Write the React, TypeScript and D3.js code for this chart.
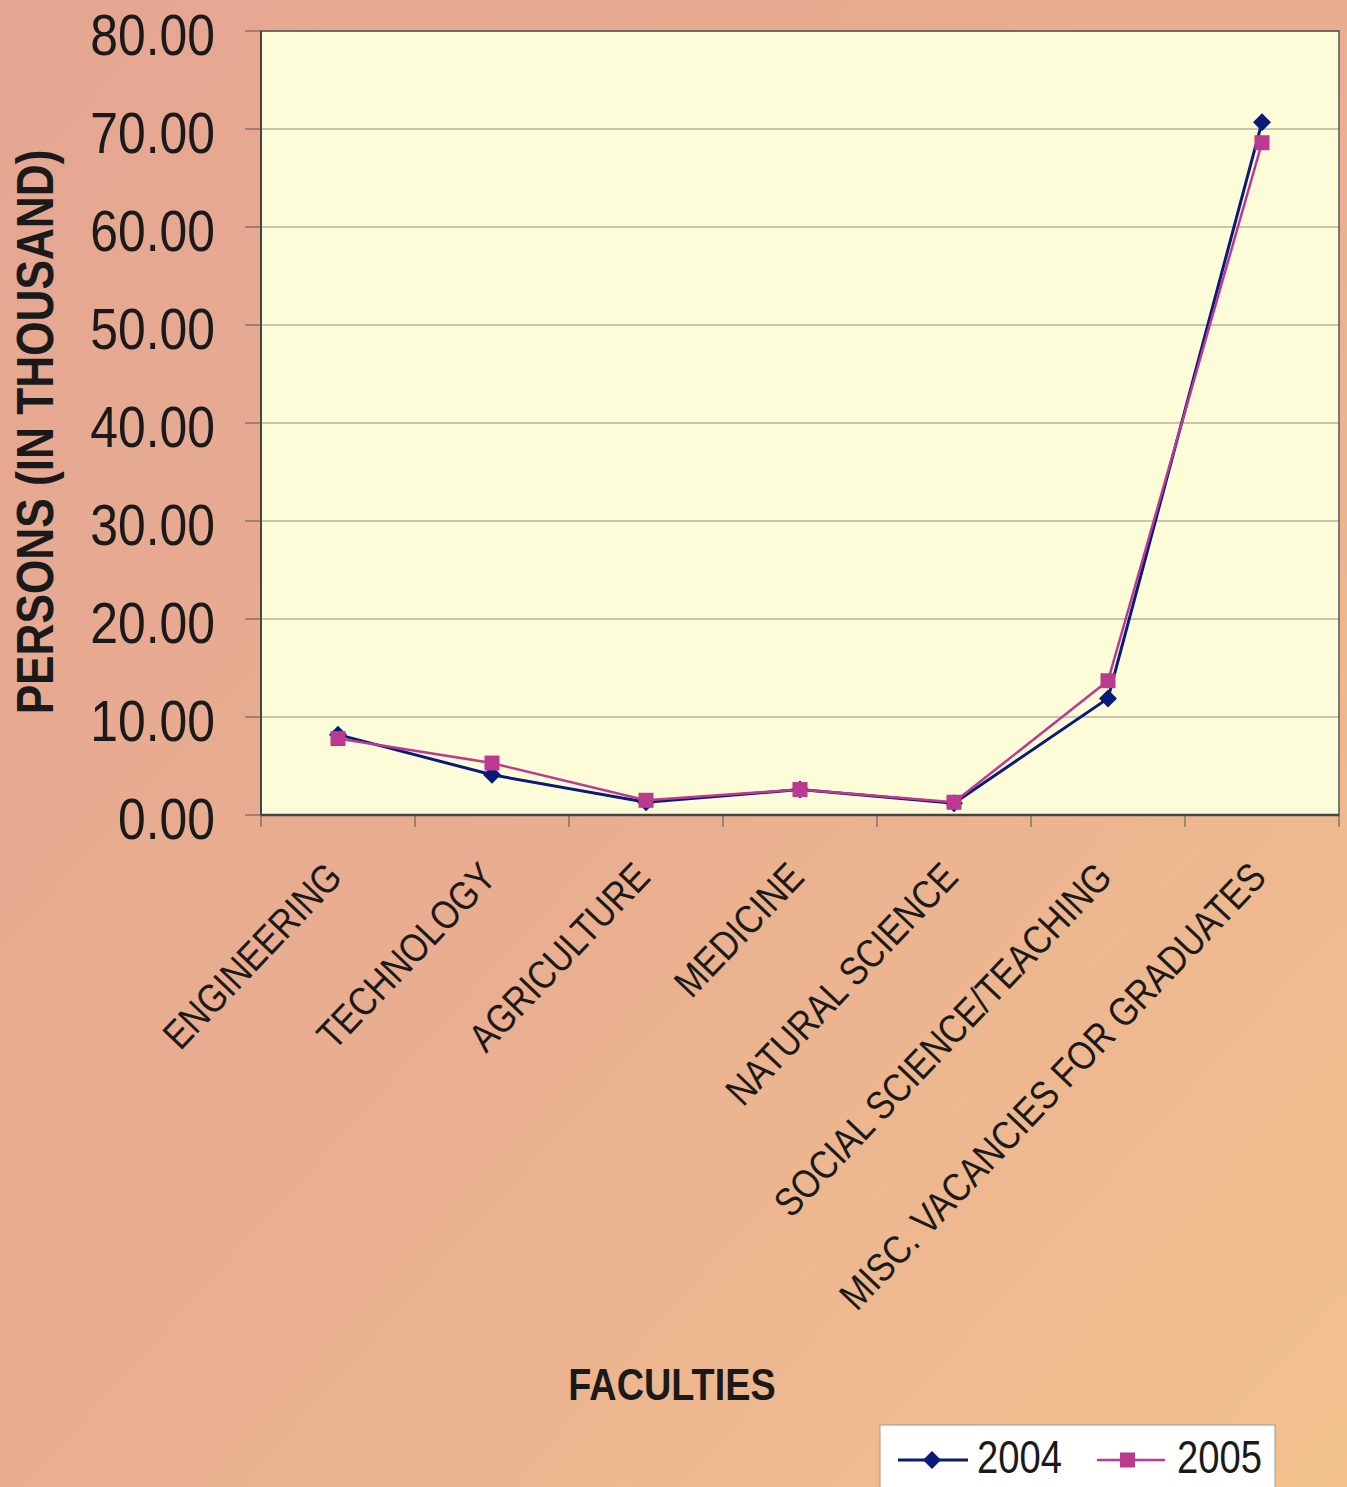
import React from "react";
import * as d3 from "d3";

const categories = [
  "ENGINEERING",
  "TECHNOLOGY",
  "AGRICULTURE",
  "MEDICINE",
  "NATURAL SCIENCE",
  "SOCIAL SCIENCE/TEACHING",
  "MISC. VACANCIES FOR GRADUATES",
];
const values2004 = [8.2, 4.1, 1.3, 2.6, 1.2, 11.9, 70.7];
const values2005 = [7.8, 5.3, 1.5, 2.6, 1.3, 13.7, 68.6];
const yTicks = [0, 10, 20, 30, 40, 50, 60, 70, 80];
const seriesNames = ["2004", "2005"];

const W = 1347;
const H = 1487;
const M = { left: 261, right: 1339, top: 31, bottom: 815 };
const FONT = "'Liberation Sans', Arial, Helvetica, sans-serif";
const C2004 = "#0a1a78";
const C2005 = "#bb3a90";

export default function App() {
  const x = d3.scaleBand<string>().domain(categories).range([M.left, M.right]);
  const y = d3.scaleLinear().domain([0, 80]).range([M.bottom, M.top]);
  const cx = (c: string) => (x(c) as number) + x.bandwidth() / 2;

  const line = d3
    .line<number>()
    .x((_, i) => cx(categories[i]))
    .y((d) => y(d));

  const diamond = (px: number, py: number, r: number) =>
    `M${px},${py - r}L${px + r},${py}L${px},${py + r}L${px - r},${py}Z`;

  const boundaries = d3.range(categories.length + 1).map((i) => M.left + i * x.bandwidth());

  return (
    <svg
      width={W}
      height={H}
      style={{ position: "absolute", left: 0, top: 0, display: "block" }}
      fontFamily={FONT}
    >
      <defs>
        <linearGradient id="bg" x1="0" y1="0" x2="1" y2="1">
          <stop offset="0" stopColor="#e5a692" />
          <stop offset="0.5" stopColor="#e9ae90" />
          <stop offset="1" stopColor="#f2c28e" />
        </linearGradient>
      </defs>
      <rect x={0} y={0} width={W} height={H} fill="url(#bg)" />

      {/* plot area */}
      <rect
        x={M.left}
        y={M.top}
        width={M.right - M.left}
        height={M.bottom - M.top}
        fill="#fdfcd9"
      />
      {yTicks.map((t) => (
        <line
          key={"g" + t}
          x1={M.left}
          x2={M.right}
          y1={y(t)}
          y2={y(t)}
          stroke="#8f8f78"
          strokeWidth={1}
        />
      ))}
      <rect
        x={M.left}
        y={M.top}
        width={M.right - M.left}
        height={M.bottom - M.top}
        fill="none"
        stroke="#555"
        strokeWidth={1.5}
      />
      <line x1={M.left} x2={M.right} y1={M.bottom} y2={M.bottom} stroke="#444" strokeWidth={2.5} />
      <line x1={M.left} x2={M.left} y1={M.top} y2={M.bottom} stroke="#444" strokeWidth={2} />

      {/* y ticks */}
      {yTicks.map((t) => (
        <g key={"yt" + t}>
          <line x1={M.left - 16} x2={M.left} y1={y(t)} y2={y(t)} stroke="#555" strokeWidth={1} />
          <text
            transform={`translate(215,${y(t) + 24}) scale(0.86,1)`}
            textAnchor="end"
            fontSize={58}
            fill="#1a1a1a"
          >
            {t.toFixed(2)}
          </text>
        </g>
      ))}

      {/* x ticks */}
      {boundaries.map((b, i) => (
        <line key={"xt" + i} x1={b} x2={b} y1={M.bottom} y2={M.bottom + 12} stroke="#555" strokeWidth={1} />
      ))}
      {categories.map((c) => (
        <text
          key={"xl" + c}
          transform={`translate(${cx(c) + 6},${M.bottom + 64}) rotate(-46.5) scale(0.85,1)`}
          textAnchor="end"
          fontSize={40}
          fill="#1a1a1a"
        >
          {c}
        </text>
      ))}

      {/* axis titles */}
      <text
        transform={`translate(53,432) rotate(-90) scale(0.85,1)`}
        textAnchor="middle"
        fontSize={52}
        fontWeight="bold"
        fill="#1a1a1a"
      >
        PERSONS (IN THOUSAND)
      </text>
      <text
        transform={`translate(672,1400) scale(0.86,1)`}
        textAnchor="middle"
        fontSize={44}
        fontWeight="bold"
        fill="#1a1a1a"
      >
        FACULTIES
      </text>

      {/* series 2004 */}
      <path d={line(values2004) || ""} fill="none" stroke={C2004} strokeWidth={3} />
      {values2004.map((v, i) => (
        <path key={"d" + i} d={diamond(cx(categories[i]), y(v), 9)} fill={C2004} />
      ))}
      {/* series 2005 */}
      <path d={line(values2005) || ""} fill="none" stroke={C2005} strokeWidth={2.5} />
      {values2005.map((v, i) => (
        <rect
          key={"s" + i}
          x={cx(categories[i]) - 7.5}
          y={y(v) - 7.5}
          width={15}
          height={15}
          fill={C2005}
        />
      ))}

      {/* legend */}
      <rect x={880} y={1425} width={395} height={80} fill="#ffffff" stroke="#999" strokeWidth={1} />
      <line x1={898} x2={968} y1={1460} y2={1460} stroke={C2004} strokeWidth={3} />
      <path d={diamond(932, 1460, 9)} fill={C2004} />
      <text transform="translate(977,1473) scale(0.83,1)" fontSize={46} fill="#1a1a1a">
        {seriesNames[0]}
      </text>
      <line x1={1097} x2={1165} y1={1460} y2={1460} stroke={C2005} strokeWidth={2.5} />
      <rect x={1120} y={1452.5} width={15} height={15} fill={C2005} />
      <text transform="translate(1177,1473) scale(0.83,1)" fontSize={46} fill="#1a1a1a">
        {seriesNames[1]}
      </text>
    </svg>
  );
}
